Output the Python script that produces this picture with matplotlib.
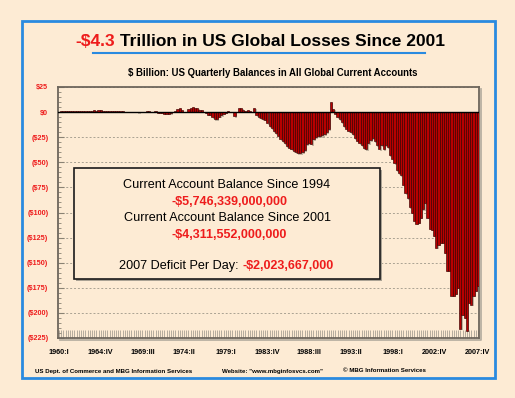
import numpy as np
import matplotlib.pyplot as plt
import matplotlib.patheffects as pe
from matplotlib.patches import Rectangle

plt.rcParams['font.family'] = ['Liberation Sans', 'DejaVu Sans']

# US quarterly current account balance, $ billion, 1960:I .. 2007:IV
balances = [
    0.3, 0.6, 1.0, 1.0,        # 1960
    1.2, 1.0, 0.7, 0.9,        # 1961
    0.8, 1.1, 0.8, 0.8,        # 1962
    0.8, 1.0, 1.4, 1.2,        # 1963
    1.6, 1.5, 1.7, 2.0,        # 1964
    1.3, 1.5, 1.3, 1.3,        # 1965
    1.0, 0.7, 0.6, 0.7,        # 1966
    0.9, 0.7, 0.5, 0.5,        # 1967
    0.2, 0.1, 0.3, 0.0,        # 1968
    -0.1, 0.1, 0.2, 0.2,       # 1969
    0.6, 0.8, 0.5, 0.4,        # 1970
    0.7, -0.6, -0.8, -0.7,     # 1971
    -1.6, -1.8, -1.5, -1.3,    # 1972
    0.2, 1.5, 3.5, 4.0,        # 1973
    2.5, 0.3, 0.2, 3.0,        # 1974
    4.5, 5.0, 4.5, 4.0,        # 1975
    2.5, 2.0, 0.3, -1.0,       # 1976
    -2.5, -3.0, -5.0, -7.0,    # 1977
    -7.0, -4.5, -3.0, -1.5,    # 1978
    -0.5, 1.0, 0.3, 0.0,       # 1979
    -4.0, 0.5, 4.5, 4.0,       # 1980
    2.0, 1.5, 2.0, 1.0,        # 1981
    0.5, 4.0, -3.0, -5.0,      # 1982
    -6, -7, -8, -11,           # 1983
    -14, -16, -19, -21,        # 1984
    -24, -27, -29, -31,        # 1985
    -34, -36, -37, -39,        # 1986
    -40, -41, -41, -40,        # 1987
    -38, -32, -31, -32,        # 1988
    -27, -25, -24, -24,        # 1989
    -23, -22, -20, -17,        # 1990
    10, 3, -2, -5,             # 1991
    -7, -10, -14, -17,         # 1992
    -19, -20, -22, -26,        # 1993
    -29, -31, -33, -36,        # 1994
    -37, -31, -28, -26,        # 1995
    -29, -33, -37, -33,        # 1996
    -37, -33, -35, -43,        # 1997
    -47, -51, -58, -61,        # 1998
    -63, -73, -81, -86,        # 1999
    -95, -100, -108, -111,     # 2000
    -110, -105, -97, -91,      # 2001
    -105, -116, -117, -123,    # 2002
    -135, -132, -130, -130,    # 2003
    -140, -158, -158, -183,    # 2004
    -183, -181, -175, -216,    # 2005
    -202, -205, -218, -190,    # 2006
    -192, -183, -178, -173,    # 2007
]

roman = ['I', 'II', 'III', 'IV']
quarters = [f"{1960 + k // 4}:{roman[k % 4]}" for k in range(len(balances))]
tick_quarters = ['1960:I', '1964:IV', '1969:III', '1974:II', '1979:I', '1983:IV',
                 '1988:III', '1993:II', '1998:I', '2002:IV', '2007:IV']
y_ticks = [25, 0, -25, -50, -75, -100, -125, -150, -175, -200, -225]
y_tick_labels = ['$25', '$0', '($25)', '($50)', '($75)', '($100)', '($125)',
                 '($150)', '($175)', '($200)', '($225)']

bg = '#fdebd4'
red = '#ee1c1c'
blue = '#2a8ae0'

fig = plt.figure(figsize=(5.15, 3.98), dpi=100, facecolor=bg)

# main chart
ax = fig.add_axes([58 / 515, 60 / 398, 421 / 515, 251 / 398])
ax.set_facecolor(bg)
x = np.arange(len(balances))
ax.bar(x, balances, width=1.0, color='#b80000', edgecolor='#3a0000', linewidth=0.45,
       zorder=3, path_effects=[pe.SimplePatchShadow(offset=(1, -1), shadow_rgbFace='#9a9080', alpha=0.6),
                               pe.Normal()])
ax.axhline(0, color='black', lw=1.0, zorder=4)
ax.set_xlim(-0.5, len(balances) - 0.5)
ax.set_ylim(-225, 25)

ax.set_yticks(y_ticks)
ax.set_yticklabels(y_tick_labels, color=red, fontsize=5.2, fontweight='bold')
ax.set_yticks(np.arange(-225, 26, 5), minor=True)
ax.tick_params(axis='y', which='major', direction='in', length=4, color='#8a8274', pad=7)
ax.tick_params(axis='y', which='minor', direction='in', length=2.5, color='#8a8274')

ax.set_xticks([quarters.index(q) for q in tick_quarters])
ax.set_xticklabels(tick_quarters, fontsize=5.2, fontweight='bold')
ax.set_xticks(x, minor=True)
ax.tick_params(axis='x', which='both', direction='in', length=6, width=0.7,
               color='#b3ab9d', pad=8)

ax.yaxis.grid(True, linestyle=(0, (2, 2)), color='#aaa292', lw=0.7)
ax.set_axisbelow(True)
for s in ax.spines.values():
    s.set_color('#6e665c')
    s.set_linewidth(1.3)

# decorations in pixel coordinates
ov = fig.add_axes([0, 0, 1, 1])
ov.set_xlim(0, 515)
ov.set_ylim(398, 0)
ov.axis('off')

ov.add_patch(Rectangle((22, 21), 473, 357, fill=False, edgecolor=blue, lw=2))
ov.plot([60, 481, 481], [340, 340, 89], color='#b8b0a2', lw=1.3)

t1 = ov.text(75, 41, '-$4.3', color=red, fontsize=12.5, fontweight='bold', va='center', ha='left')
ov.annotate(' Trillion in US Global Losses Since 2001', xycoords=t1, xy=(1, 0),
            va='bottom', ha='left', fontsize=12.5, fontweight='bold')
ov.plot([93, 425], [53, 53], color=blue, lw=1.5)
ov.text(273, 73, '$ Billion: US Quarterly Balances in All Global Current Accounts',
        fontsize=6.9, fontweight='bold', ha='center', va='center')

# summary box
ov.add_patch(Rectangle((76, 170), 306, 111, facecolor='#aaa294', edgecolor='none'))
ov.add_patch(Rectangle((74, 168), 306, 111, facecolor=bg, edgecolor='#1a1a1a', lw=1.2))
ov.text(227, 185, 'Current Account Balance Since 1994', fontsize=9.1, ha='center', va='center')
ov.text(229, 202, '-$5,746,339,000,000', color=red, fontsize=9.0, fontweight='bold',
        ha='center', va='center')
ov.text(227, 218, 'Current Account Balance Since 2001', fontsize=9.1, ha='center', va='center')
ov.text(229, 235, '-$4,311,552,000,000', color=red, fontsize=9.0, fontweight='bold',
        ha='center', va='center')
t2 = ov.text(119, 266, '2007 Deficit Per Day: ', fontsize=9.1, ha='left', va='center')
ov.annotate('-$2,023,667,000', xycoords=t2, xy=(1, 0), va='bottom', ha='left',
            color=red, fontsize=9.0, fontweight='bold')

# footer
ov.text(35, 371, 'US Dept. of Commerce and MBG Information Services', fontsize=4.45,
        fontweight='bold', ha='left', va='center')
ov.text(222, 371, 'Website: "www.mbginfosvcs.com"', fontsize=4.45, fontweight='bold',
        ha='left', va='center')
ov.text(343, 371, '\u00a9 MBG Information Services', fontsize=4.45, fontweight='bold',
        ha='left', va='center')

fig.savefig('out.png', dpi=100, facecolor=bg)
